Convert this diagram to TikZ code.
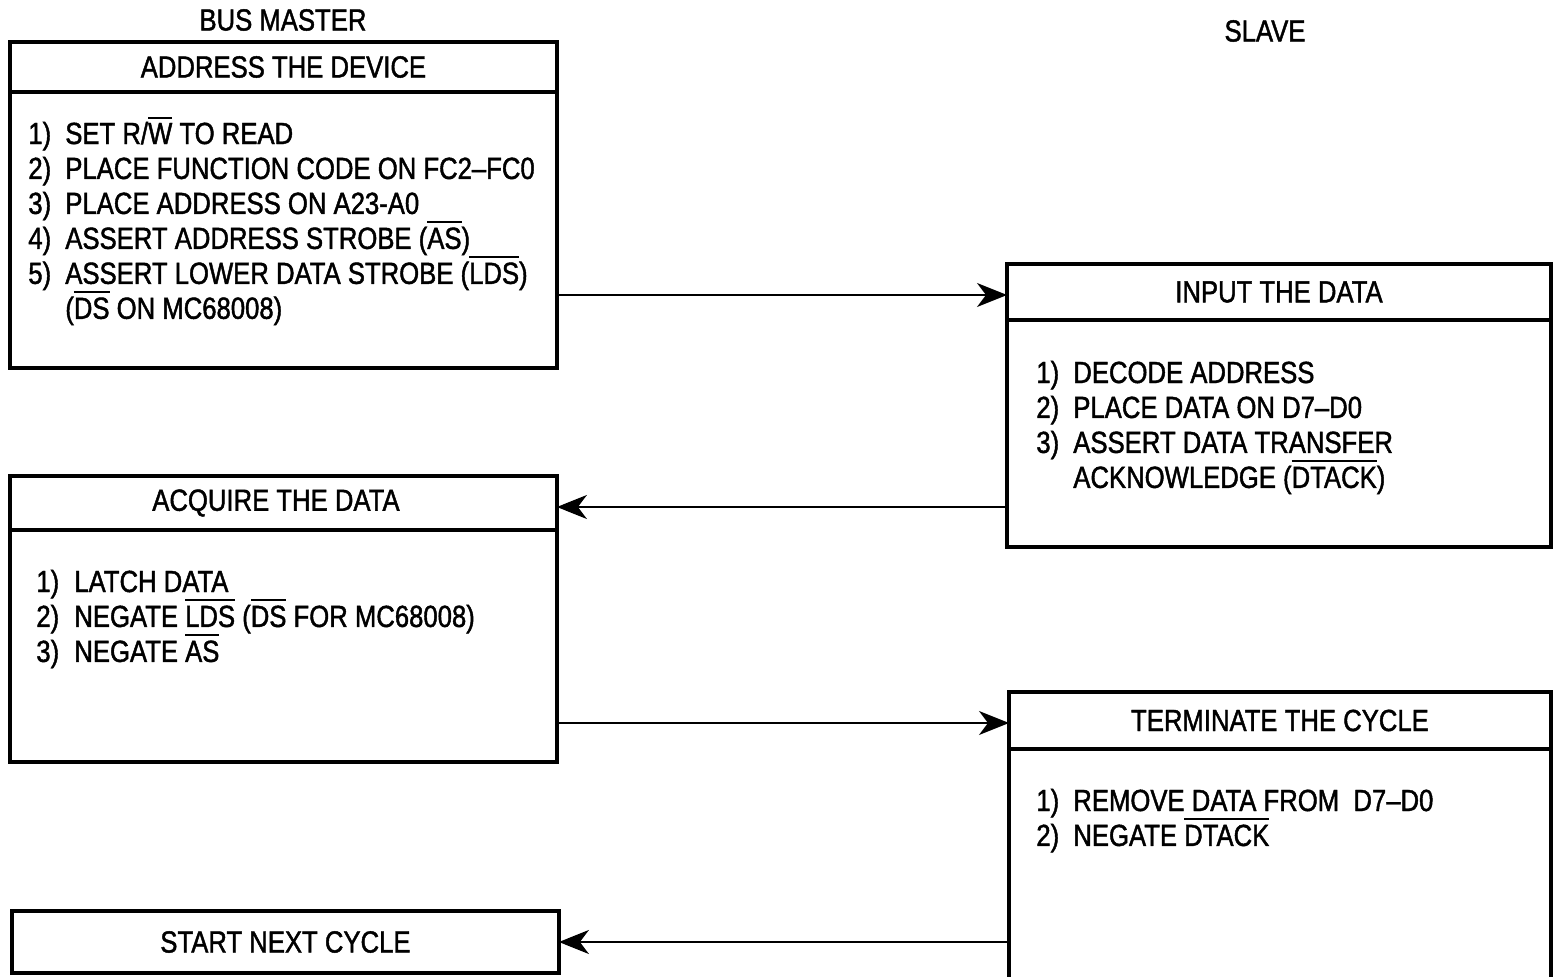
\documentclass[tikz,border=0pt]{standalone}
\usepackage{fontspec}
\setmainfont{Liberation Sans}[FakeStretch=0.84, FakeBold=1.4]
\usetikzlibrary{arrows.meta,positioning}

% bar over an active-low signal name (kept out of the line height)
\newcommand\act[1]{\leavevmode\smash{\vbox{\hrule height 1.1pt\kern 2.4pt\hbox{#1}}}}

\begin{document}
\begin{tikzpicture}[
  x=0.02cm, y=-0.02cm,
  font=\fontsize{17.4}{19.9}\selectfont,
  box/.style={draw, line width=2.2pt, outer sep=0pt, inner sep=0pt, minimum width=10.94cm},
  head/.style={box, minimum height=1.0cm},
  list/.style={inner sep=0pt, anchor=base west},
  flow/.style={line width=1.1pt, -{Stealth[length=0.6cm, width=0.48cm, inset=0.18cm]}}
]
\useasboundingbox (0,0) rectangle (1553,977);
\clip (0,0) rectangle (1553,977);

\node (master) at (283,20) {BUS MASTER};
\node (slave) at (1265,31) {SLAVE};

% bus master, address phase
\node[head, anchor=north west] (addr) at (10,42) {ADDRESS THE DEVICE};
\node[box, minimum height=5.52cm, below=0pt of addr] (addrbody) {};
\node[list] (addrlist) at (28,144) {\begin{tabular}[t]{@{}p{0.74cm}@{}l@{}}
  1) & SET R/\act{W} TO READ\\
  2) & PLACE FUNCTION CODE ON FC2–FC0\\
  3) & PLACE ADDRESS ON A23-A0\\
  4) & ASSERT ADDRESS STROBE (\act{AS})\\
  5) & ASSERT LOWER DATA STROBE (\act{LDS})\\
     & (\act{DS} ON MC68008)
\end{tabular}};

% slave, data out
\node[head, minimum width=10.88cm, minimum height=1.12cm, anchor=north west] (inhead) at (1007,264) {INPUT THE DATA};
\node[box, minimum width=10.88cm, minimum height=4.54cm, below=0pt of inhead] (inbody) {};
\node[list] (inlist) at (1036,383) {\begin{tabular}[t]{@{}p{0.74cm}@{}l@{}}
  1) & DECODE ADDRESS\\
  2) & PLACE DATA ON D7–D0\\
  3) & ASSERT DATA TRANSFER\\
     & ACKNOWLEDGE (\act{DTACK})
\end{tabular}};

% bus master, latch
\node[head, minimum height=1.08cm, anchor=north west] (acqhead) at (10,476) {\hspace{-0.3cm}ACQUIRE THE DATA};
\node[box, minimum height=4.64cm, below=0pt of acqhead] (acqbody) {};
\node[list] (acqlist) at (36,592) {\begin{tabular}[t]{@{}p{0.76cm}@{}l@{}}
  1) & LATCH DATA\\
  2) & NEGATE \act{LDS} (\act{DS} FOR MC68008)\\
  3) & NEGATE \act{AS}
\end{tabular}};

% slave, end of cycle
\node[head, minimum width=10.84cm, minimum height=1.14cm, anchor=north west] (termhead) at (1009,692) {TERMINATE THE CYCLE};
\node[box, minimum width=10.84cm, minimum height=4.8cm, below=0pt of termhead] (termbody) {};
\node[list] (termlist) at (1036,811) {\begin{tabular}[t]{@{}p{0.74cm}@{}l@{}}
  1) & REMOVE DATA FROM~ D7–D0\\
  2) & NEGATE \act{DTACK}
\end{tabular}};

\node[head, minimum height=1.24cm, anchor=north west] (next) at (12,911) {START NEXT CYCLE};

% handshake
\draw[flow] ([yshift=-0.06cm]addrbody.east |- inhead.west) -- ([yshift=-0.06cm]inhead.west);
\draw[flow] ([yshift=-0.08cm]inbody.west |- acqhead.east) -- ([yshift=-0.08cm]acqhead.east);
\draw[flow] ([yshift=-0.05cm]acqbody.east |- termhead.west) -- ([yshift=-0.05cm]termhead.west);
\draw[flow] (termbody.west |- next.east) -- (next.east);

\end{tikzpicture}
\end{document}
